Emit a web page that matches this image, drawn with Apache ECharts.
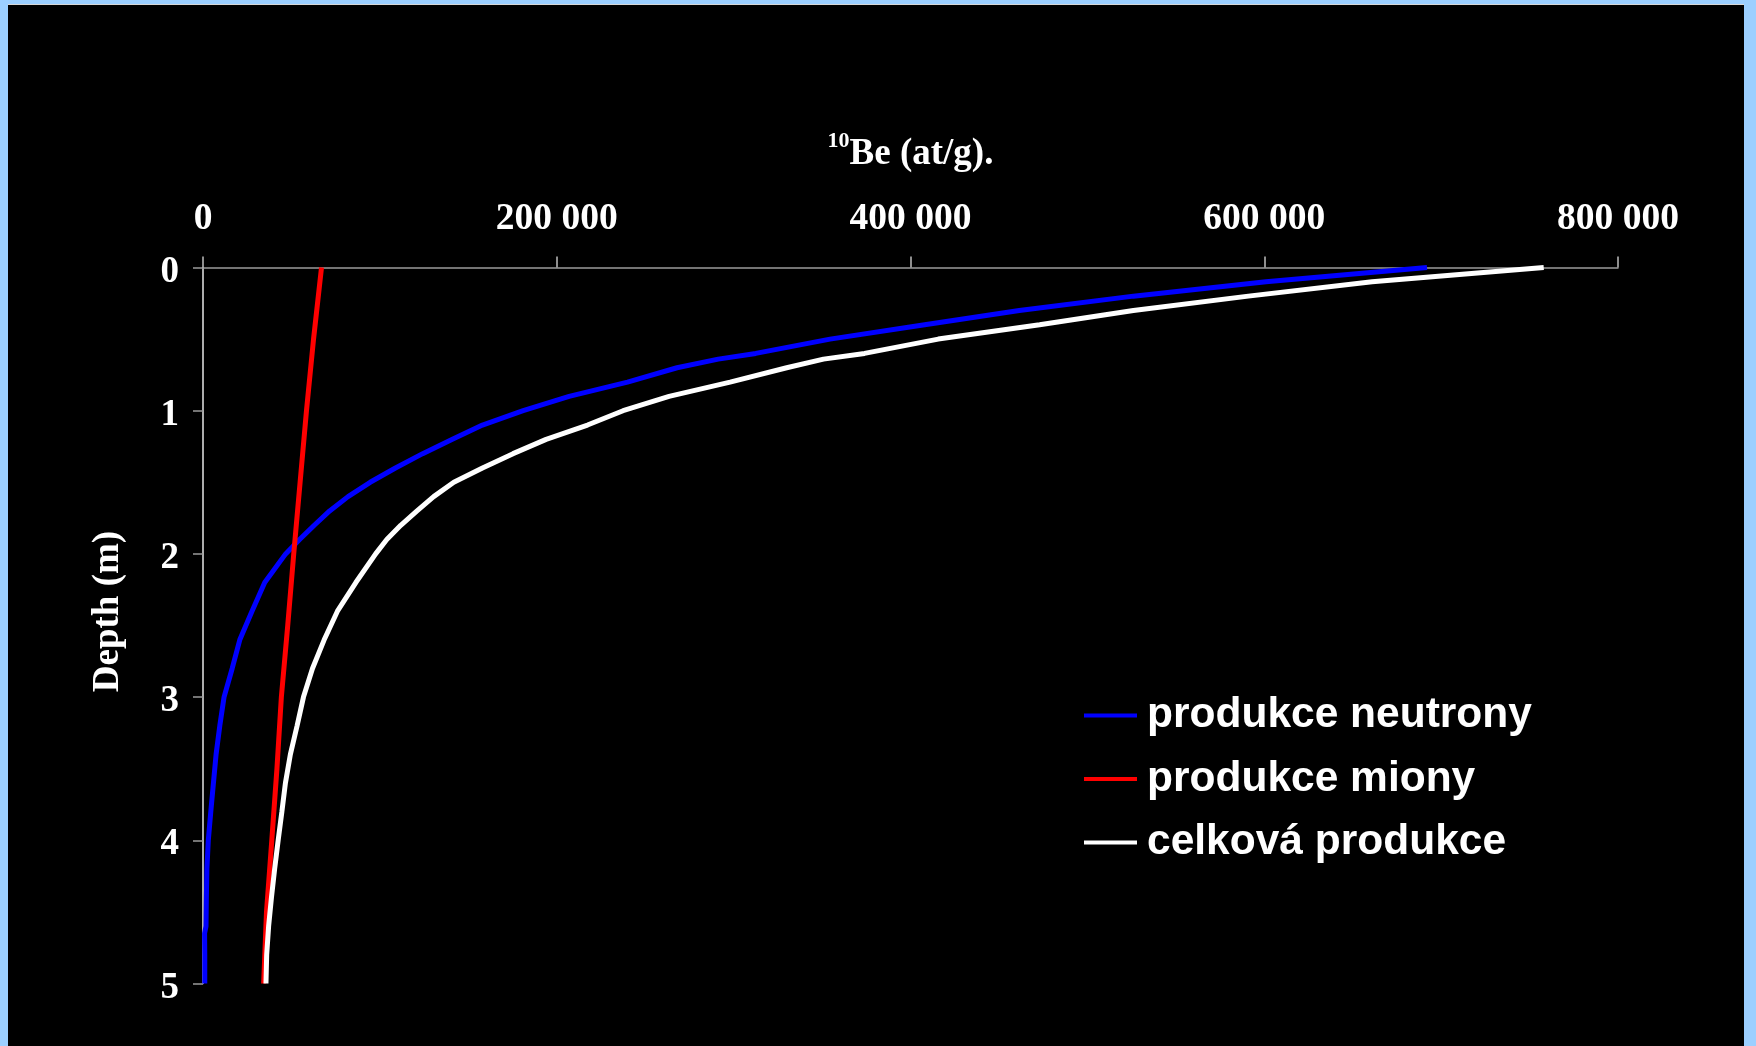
<!DOCTYPE html>
<html>
<head>
<meta charset="utf-8">
<script src="https://cdn.jsdelivr.net/npm/echarts@6/dist/echarts.min.js"></script>
<style>
  html, body { margin: 0; padding: 0; width: 1756px; height: 1046px; overflow: hidden; background: #9ccfff; }
  #panel { position: absolute; left: 8px; top: 4px; width: 1736px; height: 1042px; background: #000; border-top: 1px solid #d8d8d8; box-sizing: border-box; }
  #chart { position: absolute; left: 0; top: 0; width: 1756px; height: 1046px; }
</style>
</head>
<body>
<div id="panel"></div>
<div id="chart"></div>
<script>
// ---- data ----
const seriesNames = ['produkce neutrony', 'produkce miony', 'celková produkce'];

const neutronDepth = [0, 0.1, 0.2, 0.3, 0.4, 0.5, 0.6, 0.64, 0.7, 0.8, 0.9, 1.0, 1.1, 1.2, 1.3, 1.4, 1.5, 1.6, 1.7, 1.8, 1.9, 2.0, 2.2, 2.4, 2.6, 2.8, 3.0, 3.2, 3.4, 3.6, 3.8, 4.0, 4.2, 4.4, 4.6, 4.65, 4.8, 5.0];
const neutronValues = [692000, 601000, 526000, 461500, 408000, 354500, 312500, 291300, 268000, 240000, 207000, 181000, 158000, 141000, 124200, 108800, 94500, 82000, 71600, 62900, 54600, 46700, 34900, 27700, 20800, 16500, 11900, 9500, 7400, 5900, 4400, 3000, 2200, 1900, 1700, 900, 1000, 1000];

const muonDepth = [0, 0.5, 1.0, 1.5, 2.0, 2.5, 3.0, 3.5, 4.0, 4.5, 5.0];
const muonValues = [67000, 62500, 58500, 54900, 51300, 47900, 44300, 41800, 38900, 35900, 34300];

const totalDepth = [0, 0.1, 0.2, 0.3, 0.4, 0.5, 0.6, 0.64, 0.7, 0.8, 0.9, 1.0, 1.1, 1.2, 1.3, 1.4, 1.5, 1.6, 1.7, 1.8, 1.9, 2.0, 2.2, 2.4, 2.6, 2.8, 3.0, 3.2, 3.4, 3.6, 3.8, 4.0, 4.2, 4.4, 4.6, 4.8, 5.0];
const totalValues = [758000, 661000, 591000, 526000, 473000, 415700, 374000, 350800, 330000, 298000, 263500, 237500, 217400, 194000, 175300, 158000, 141800, 130400, 121000, 111800, 103900, 97600, 86400, 76000, 68500, 61900, 56800, 53200, 49400, 46600, 44600, 42500, 40500, 38700, 37100, 36000, 35600];

const xTicks = { min: 0, max: 800000, interval: 200000 };
const yTicks = { min: 0, max: 5, interval: 1 };

const pairs = (vals, depths) => vals.map((v, i) => [v, depths[i]]);
const fmt = v => String(v).replace(/\B(?=(\d{3})+(?!\d))/g, ' ');

const chart = echarts.init(document.getElementById('chart'), null, { renderer: 'canvas' });
const serif = '"Liberation Serif", "Times New Roman", serif';
const sans = '"Liberation Sans", Arial, sans-serif';

chart.setOption({
  backgroundColor: 'transparent',
  animation: false,
  grid: { left: 203, right: 138, top: 267.5, bottom: 62.5, containLabel: false },
  xAxis: {
    type: 'value', position: 'top',
    min: xTicks.min, max: xTicks.max, interval: xTicks.interval,
    name: '{sup|10}{main|Be (at/g).}',
    nameLocation: 'middle', nameGap: 95,
    nameTextStyle: {
      rich: {
        sup: { fontFamily: serif, fontWeight: 'bold', fontSize: 22, color: '#fff', verticalAlign: 'top', lineHeight: 42 },
        main: { fontFamily: serif, fontWeight: 'bold', fontSize: 37, color: '#fff', verticalAlign: 'bottom', lineHeight: 42 }
      }
    },
    axisLine: { show: true, onZero: false, lineStyle: { color: '#9a9a9a', width: 1.5 } },
    axisTick: { show: true, inside: false, length: 11, lineStyle: { color: '#bdbdbd', width: 1.5 } },
    axisLabel: { color: '#fff', fontFamily: serif, fontWeight: 'bold', fontSize: 37.5, margin: 29, formatter: fmt },
    splitLine: { show: false }
  },
  yAxis: {
    type: 'value', inverse: true,
    min: yTicks.min, max: yTicks.max, interval: yTicks.interval,
    name: 'Depth (m)', nameLocation: 'middle', nameGap: 76, nameRotate: 90,
    nameTextStyle: { color: '#fff', fontFamily: serif, fontWeight: 'bold', fontSize: 37, padding: [0, 0, 0, 28] },
    axisLine: { show: true, onZero: false, lineStyle: { color: '#e6e6e6', width: 1.5 } },
    axisTick: { show: true, inside: false, length: 10, lineStyle: { color: '#9a9a9a', width: 1.5 } },
    axisLabel: {
      margin: 24,
      formatter: v => '{d|' + v + '}',
      rich: { d: { color: '#fff', fontFamily: serif, fontWeight: 'bold', fontSize: 37, padding: [9, 0, 0, 0] } }
    },
    splitLine: { show: false }
  },
  legend: {
    orient: 'vertical', left: 1079, top: 689,
    icon: 'rect', itemWidth: 53, itemHeight: 4, itemGap: 20.5,
    data: seriesNames,
    textStyle: { color: '#fff', fontFamily: sans, fontWeight: 'bold', fontSize: 42.5, padding: [0, 0, 0, 5] }
  },
  series: [
    { name: seriesNames[0], type: 'line', data: pairs(neutronValues, neutronDepth), showSymbol: false, symbol: 'none',
      color: '#0000ff', lineStyle: { color: '#0000ff', width: 5 } },
    { name: seriesNames[1], type: 'line', data: pairs(muonValues, muonDepth), showSymbol: false, symbol: 'none',
      color: '#ff0000', lineStyle: { color: '#ff0000', width: 5 } },
    { name: seriesNames[2], type: 'line', data: pairs(totalValues, totalDepth), showSymbol: false, symbol: 'none',
      color: '#ffffff', lineStyle: { color: '#ffffff', width: 5 } }
  ]
});
</script>
</body>
</html>
